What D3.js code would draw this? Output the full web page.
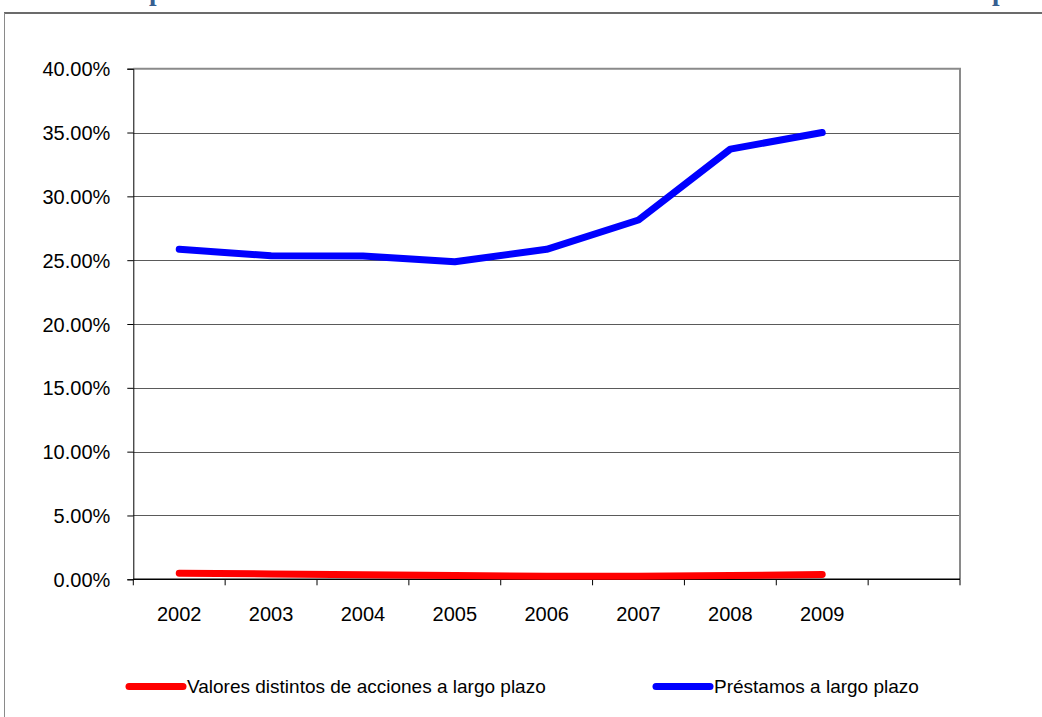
<!DOCTYPE html>
<html>
<head>
<meta charset="utf-8">
<script src="https://cdn.jsdelivr.net/npm/d3@7"></script>
<style>
  html, body { margin: 0; padding: 0; background: #fff; }
  svg text { font-family: "Liberation Sans", Arial, sans-serif; fill: #000; }
</style>
</head>
<body>
<svg id="chart" width="1042" height="717"></svg>
<script>
// Categories along the x axis (last slot is left empty)
const years = ["2002", "2003", "2004", "2005", "2006", "2007", "2008", "2009"];
const slots = [...years, ""];

// Series values, in percent
const valores = [0.48, 0.42, 0.36, 0.30, 0.24, 0.24, 0.30, 0.37];
const prestamos = [25.85, 25.35, 25.33, 24.88, 25.85, 28.15, 33.70, 35.00];

// Y axis ticks
const yTicks = [0, 5, 10, 15, 20, 25, 30, 35, 40];

const seriesNames = ["Valores distintos de acciones a largo plazo", "Préstamos a largo plazo"];
const seriesColors = ["#ff0000", "#0000ff"];

const svg = d3.select("#chart");

// Outer frame of the chart object
svg.append("line").attr("x1", 4).attr("x2", 1042).attr("y1", 13).attr("y2", 13)
  .attr("stroke", "#6b6b6b").attr("stroke-width", 2);
svg.append("line").attr("x1", 4.5).attr("x2", 4.5).attr("y1", 13).attr("y2", 717)
  .attr("stroke", "#8a8a8a").attr("stroke-width", 1);

// Heading above the chart, mostly cut off by the top edge
svg.append("g").selectAll("text").data([149, 992]).join("text")
  .attr("x", d => d).attr("y", 0)
  .style("font-family", "'Liberation Serif', serif")
  .style("font-weight", "bold").style("font-size", "27px")
  .style("fill", "#365f91")
  .text("p");

const plotLeft = 133.3, plotRight = 960, plotTop = 68.7, plotBottom = 579.3;

const x = d3.scaleBand().domain(slots).range([plotLeft, plotRight]);
const y = d3.scaleLinear().domain([0, 40]).range([plotBottom, plotTop]);

// Horizontal gridlines
svg.append("g").selectAll("line").data(yTicks.filter(d => d > 0 && d < 40)).join("line")
  .attr("x1", plotLeft).attr("x2", plotRight)
  .attr("y1", d => Math.round(y(d)) + 0.5).attr("y2", d => Math.round(y(d)) + 0.5)
  .attr("stroke", "#5a5a5a").attr("stroke-width", 1);

// Plot area top and right border
svg.append("path")
  .attr("d", `M${plotLeft},${plotTop} H${plotRight} V${plotBottom}`)
  .attr("fill", "none").attr("stroke", "#8a8a8a").attr("stroke-width", 2);

// Y axis
const yAxis = d3.axisLeft(y).tickValues(yTicks).tickSize(6).tickPadding(17)
  .tickFormat(d => d.toFixed(2) + "%");
const gy = svg.append("g").attr("transform", `translate(${plotLeft},0)`).call(yAxis);
gy.select(".domain").attr("stroke", "#000");
gy.selectAll(".tick line").attr("stroke", "#000");
gy.selectAll(".tick text").style("font-size", "20px").attr("dy", "0.35em");

// X axis: labels centred in bands, tick marks on band edges
const gx = svg.append("g").attr("transform", `translate(0,${plotBottom})`);
gx.append("line").attr("x1", plotLeft).attr("x2", plotRight).attr("y1", 0).attr("y2", 0)
  .attr("stroke", "#000").attr("stroke-width", 1.5);
gx.selectAll("line.tk").data([...slots.map(d => x(d)), plotRight]).join("line")
  .attr("class", "tk")
  .attr("x1", d => d).attr("x2", d => d).attr("y1", 0).attr("y2", 6)
  .attr("stroke", "#000");
gx.selectAll("text").data(years).join("text")
  .attr("x", d => x(d) + x.bandwidth() / 2).attr("y", 42)
  .attr("text-anchor", "middle").style("font-size", "20px")
  .text(d => d);

// Series lines
const line = d3.line()
  .x((d, i) => x(years[i]) + x.bandwidth() / 2)
  .y(d => y(d));

[valores, prestamos].forEach((vals, k) => {
  svg.append("path").datum(vals)
    .attr("d", line)
    .attr("fill", "none")
    .attr("stroke", seriesColors[k])
    .attr("stroke-width", 7)
    .attr("stroke-linecap", "round")
    .attr("stroke-linejoin", "round");
});

// Legend
const legendX = [129, 656];
const legend = svg.append("g").selectAll("g").data(seriesNames).join("g")
  .attr("transform", (d, i) => `translate(${legendX[i]},686.5)`);
legend.append("line").attr("x1", 0).attr("x2", 54).attr("y1", 0).attr("y2", 0)
  .attr("stroke", (d, i) => seriesColors[i]).attr("stroke-width", 7)
  .attr("stroke-linecap", "round");
legend.append("text").attr("x", 58).attr("y", 0).attr("dy", "0.35em")
  .style("font-size", "19px").text(d => d);
</script>
</body>
</html>
